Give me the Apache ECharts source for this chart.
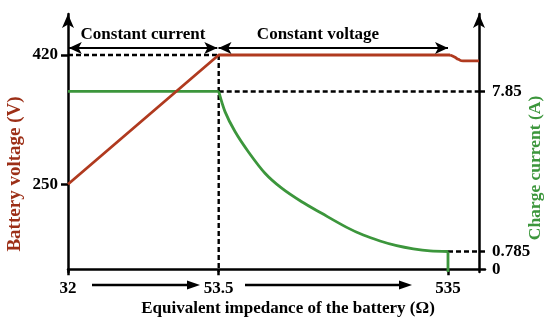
<!DOCTYPE html>
<html><head><meta charset="utf-8">
<script src="https://cdn.jsdelivr.net/npm/echarts@6/dist/echarts.min.js"></script>
<style>html,body{margin:0;padding:0;background:#fff}#c{width:550px;height:326px}</style>
</head><body><div id="c"></div>
<script>
// schematic x positions (axis is not to scale) and their impedance labels
const xTickPos = [0, 150.7, 380];
const xTickLabels = ['32', '53.5', '535'];
const voltageTicks = [250, 420];
const currentTicks = [0, 0.785, 7.85];

// Battery voltage (V)
const voltageX = [0, 150.7, 382];
const voltageY = [250, 420, 420];
const voltageTailX = [382, 387, 390.3, 395, 411];
const voltageTailY = [420, 417, 414.3, 412.2, 412.2];

// Charge current (A)
const currentFlatX = [0, 150.7];
const currentFlatY = [7.85, 7.85];
const currentCurveX = [150.7, 157, 167, 180.3, 197, 213.7, 233.7, 253.7, 278.7, 295.3, 312, 328.7, 345.3, 362, 380];
const currentCurveY = [7.85, 6.96, 6.08, 5.19, 4.24, 3.58, 2.98, 2.47, 1.85, 1.51, 1.25, 1.04, 0.90, 0.81, 0.785];

const RED = '#b03a1f', GREEN = '#3c963c';
const FONT = '"Liberation Serif","Times New Roman",serif';
const VMIN = 134.7, VMAX = 473.9, IMIN = -0.12, IMAX = 11.27;
const XMAX = 417;

const zip = (a, b) => a.map((v, i) => [v, b[i]]);
const dashed = {color: '#000', width: 2.4, type: [5, 3]};

const chart = echarts.init(document.getElementById('c'), null, {renderer: 'canvas'});
chart.setOption({
  animation: false,
  grid: {left: 68, right: 65, top: 14, bottom: 54, containLabel: false},
  xAxis: {
    type: 'value', min: 0, max: XMAX,
    axisLine: {lineStyle: {color: '#000', width: 2.5}},
    axisTick: {customValues: xTickPos, length: 6, lineStyle: {color: '#000', width: 2.5}},
    axisLabel: {customValues: xTickPos, margin: 8, color: '#000', fontFamily: FONT, fontWeight: 'bold', fontSize: 17,
      formatter: v => { const i = xTickPos.findIndex(p => Math.abs(p - v) < 1e-6); return i >= 0 ? xTickLabels[i] : ''; }},
    splitLine: {show: false}
  },
  yAxis: [{
    type: 'value', min: VMIN, max: VMAX, position: 'left',
    axisLine: {show: true, symbol: ['none', 'arrow'], symbolSize: [9, 14], lineStyle: {color: '#000', width: 2.5}},
    axisTick: {show: true, customValues: voltageTicks, length: 7, lineStyle: {color: '#000', width: 2.5}},
    axisLabel: {customValues: voltageTicks, margin: 10, color: '#000', fontFamily: FONT, fontWeight: 'bold', fontSize: 17},
    splitLine: {show: false}
  }, {
    type: 'value', min: IMIN, max: IMAX, position: 'right', offset: -6,
    axisLine: {show: true, symbol: ['none', 'arrow'], symbolSize: [9, 14], lineStyle: {color: '#000', width: 2.5}},
    axisTick: {show: true, customValues: [0.785, 7.85], length: 6, lineStyle: {color: '#000', width: 2.5}},
    axisLabel: {customValues: currentTicks, margin: 13, color: '#000', fontFamily: FONT, fontWeight: 'bold', fontSize: 17},
    splitLine: {show: false}
  }],
  series: [
    {type: 'line', yAxisIndex: 0, data: [[0, 420], [xTickPos[1], 420]], symbol: 'none', lineStyle: dashed, z: 1},
    {type: 'line', yAxisIndex: 0, data: [[xTickPos[1], 420], [xTickPos[1], VMIN]], symbol: 'none', lineStyle: dashed, z: 1},
    {type: 'line', yAxisIndex: 1, data: [[xTickPos[1], 7.85], [411, 7.85]], symbol: 'none', lineStyle: dashed, z: 1},
    {type: 'line', yAxisIndex: 1, data: [[xTickPos[2], 0.785], [411, 0.785]], symbol: 'none', lineStyle: dashed, z: 1},
    {type: 'line', yAxisIndex: 1, data: zip(currentFlatX, currentFlatY), symbol: 'none', lineStyle: {color: GREEN, width: 2.8}, z: 3},
    {type: 'line', yAxisIndex: 1, data: zip(currentCurveX, currentCurveY), smooth: 0.3, symbol: 'none', lineStyle: {color: GREEN, width: 2.8}, z: 3},
    {type: 'line', yAxisIndex: 1, data: [[xTickPos[2], 0.785], [xTickPos[2], IMIN]], symbol: 'none', lineStyle: {color: GREEN, width: 2.8}, z: 3},
    {type: 'line', yAxisIndex: 0, data: zip(voltageX, voltageY), symbol: 'none', lineStyle: {color: RED, width: 2.8}, z: 4,
      markLine: {silent: true, symbol: ['arrow', 'arrow'], symbolSize: [9, 13],
        lineStyle: {color: '#000', width: 2.2, type: 'solid'}, label: {show: false},
        data: [[{coord: [0.8, 429.2]}, {coord: [149.3, 429.2]}], [{coord: [150.5, 429.2]}, {coord: [380, 429.2]}]]}},
    {type: 'line', yAxisIndex: 0, data: zip(voltageTailX, voltageTailY), smooth: 0.5, symbol: 'none', lineStyle: {color: RED, width: 2.8}, z: 4}
  ],
  graphic: [
    {type: 'text', x: 143, y: 35, style: {text: 'Constant current', font: 'bold 17px ' + FONT, fill: '#000', align: 'center', verticalAlign: 'middle'}},
    {type: 'text', x: 318, y: 35, style: {text: 'Constant voltage', font: 'bold 17px ' + FONT, fill: '#000', align: 'center', verticalAlign: 'middle'}},
    {type: 'text', x: 288, y: 309, style: {text: 'Equivalent impedance of the battery (Ω)', font: 'bold 17px ' + FONT, fill: '#000', align: 'center', verticalAlign: 'middle'}},
    {type: 'text', x: 15, y: 174, rotation: Math.PI / 2, style: {text: 'Battery voltage (V)', font: 'bold 19px ' + FONT, fill: '#9c2f17', align: 'center', verticalAlign: 'middle'}},
    {type: 'text', x: 535, y: 168, rotation: Math.PI / 2, style: {text: 'Charge current (A)', font: 'bold 17.5px ' + FONT, fill: GREEN, align: 'center', verticalAlign: 'middle'}},
    {type: 'line', shape: {x1: 92, y1: 285, x2: 190, y2: 285}, style: {stroke: '#000', lineWidth: 2.5}},
    {type: 'polygon', shape: {points: [[187, 280.5], [200, 285], [187, 289.5]]}, style: {fill: '#000'}},
    {type: 'line', shape: {x1: 245, y1: 285, x2: 402, y2: 285}, style: {stroke: '#000', lineWidth: 2.5}},
    {type: 'polygon', shape: {points: [[399, 280.5], [412, 285], [399, 289.5]]}, style: {fill: '#000'}}
  ]
});
</script></body></html>
